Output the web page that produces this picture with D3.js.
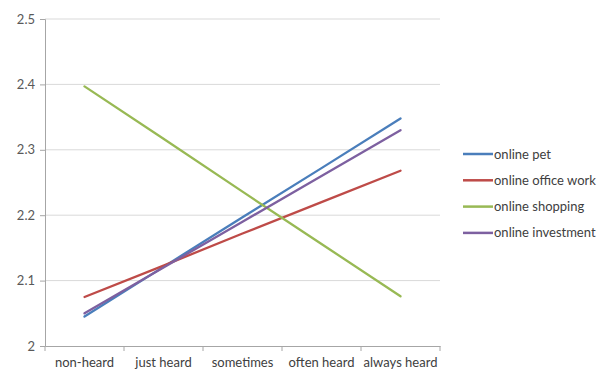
<!DOCTYPE html>
<html>
<head>
<meta charset="utf-8">
<script src="https://cdn.jsdelivr.net/npm/d3@7"></script>
<style>
  html, body { margin: 0; padding: 0; background: #fff; }
  svg { display: block; font-family: Lato, "Open Sans", sans-serif; }
</style>
</head>
<body>
<svg id="chart" width="606" height="371"></svg>
<script>
// Awareness categories along the x axis
const categories = ["non-heard", "just heard", "sometimes", "often heard", "always heard"];

// Mean scores for each online activity
const onlinePet        = [2.045, 2.121, 2.197, 2.272, 2.348];
const onlineOfficeWork = [2.075, 2.123, 2.172, 2.220, 2.268];
const onlineShopping   = [2.397, 2.317, 2.236, 2.156, 2.076];
const onlineInvestment = [2.050, 2.120, 2.190, 2.260, 2.330];

const seriesNames = ["online pet", "online office work", "online shopping", "online investment"];
const yTicks = [2, 2.1, 2.2, 2.3, 2.4, 2.5];

const series = [
  { name: seriesNames[0], values: onlinePet,        color: "#4a7ebb" },
  { name: seriesNames[1], values: onlineOfficeWork, color: "#be4b48" },
  { name: seriesNames[2], values: onlineShopping,   color: "#98b954" },
  { name: seriesNames[3], values: onlineInvestment, color: "#7d60a0" }
];

const svg = d3.select("#chart");
const plot = { left: 45, right: 440, top: 19, bottom: 346 };

const x = d3.scaleBand().domain(categories).range([plot.left, plot.right]).padding(0);
const y = d3.scaleLinear().domain([2, 2.5]).range([plot.bottom, plot.top]);

// Horizontal gridlines
svg.append("g")
  .selectAll("line")
  .data(yTicks.filter(d => d > 2))
  .join("line")
  .attr("x1", plot.left).attr("x2", plot.right)
  .attr("y1", d => y(d)).attr("y2", d => y(d))
  .attr("stroke", "#d9d9d9").attr("stroke-width", 1);

// Y axis
const yAxis = svg.append("g")
  .attr("transform", `translate(${plot.left},0)`)
  .call(d3.axisLeft(y).tickValues(yTicks).tickFormat(d3.format("")).tickSize(5).tickPadding(5));
yAxis.select(".domain").attr("stroke", "#a6a6a6");
yAxis.selectAll(".tick line").attr("stroke", "#a6a6a6");
yAxis.selectAll("text").attr("fill", "#595959").style("font-size", "13px")
  .style("font-family", "Lato, 'Open Sans', sans-serif");

// X axis with tick marks on category boundaries
const xAxis = svg.append("g")
  .attr("transform", `translate(0,${plot.bottom})`)
  .call(d3.axisBottom(x).tickSize(0).tickPadding(12));
xAxis.select(".domain").attr("stroke", "#a6a6a6");
xAxis.selectAll("text").attr("fill", "#404040").style("font-size", "13px")
  .style("font-family", "Lato, 'Open Sans', sans-serif");
svg.append("g")
  .selectAll("line")
  .data(categories.map(c => x(c)).concat([plot.right]))
  .join("line")
  .attr("x1", d => d).attr("x2", d => d)
  .attr("y1", plot.bottom).attr("y2", plot.bottom + 5)
  .attr("stroke", "#a6a6a6");

// Series lines
const line = d3.line()
  .x((d, i) => x(categories[i]) + x.bandwidth() / 2)
  .y(d => y(d));

svg.append("g")
  .selectAll("path")
  .data(series)
  .join("path")
  .attr("d", d => line(d.values))
  .attr("fill", "none")
  .attr("stroke", d => d.color)
  .attr("stroke-width", 2.3)
  .attr("stroke-linecap", "round");

// Legend
const legend = svg.append("g").attr("transform", "translate(463,154)");
const item = legend.selectAll("g")
  .data(series)
  .join("g")
  .attr("transform", (d, i) => `translate(0,${i * 26.3})`);
item.append("line")
  .attr("x1", 0).attr("x2", 30).attr("y1", 0).attr("y2", 0)
  .attr("stroke", d => d.color).attr("stroke-width", 2.5);
item.append("text")
  .attr("x", 31).attr("y", 0).attr("dy", "0.35em")
  .attr("fill", "#404040")
  .style("font-size", "13px")
  .text(d => d.name);
</script>
</body>
</html>
